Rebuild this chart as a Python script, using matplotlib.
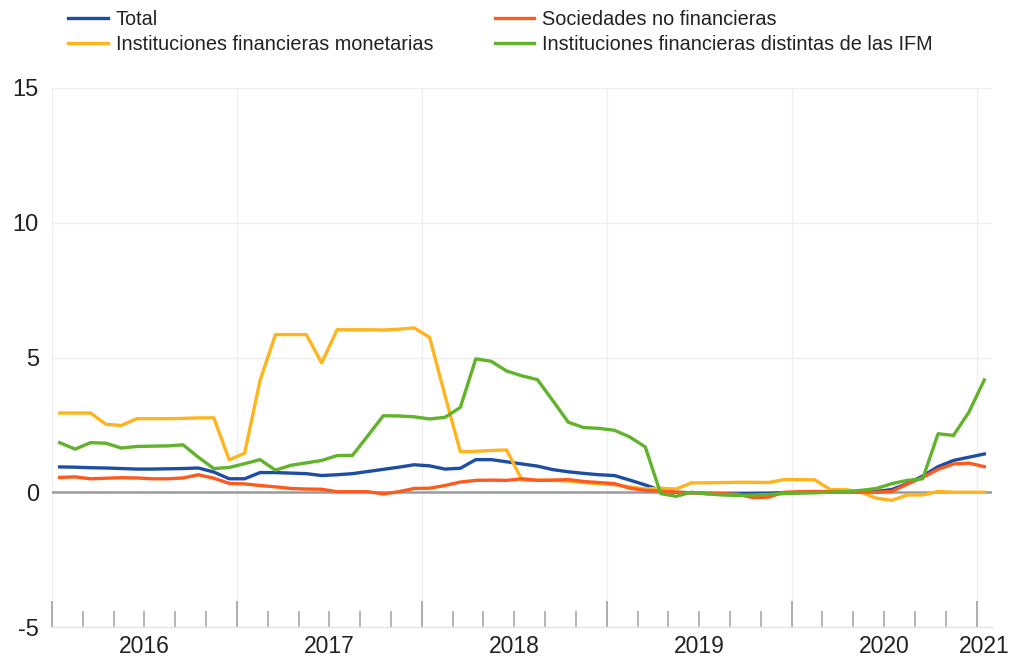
import matplotlib
matplotlib.use("Agg")
import matplotlib.pyplot as plt
import numpy as np

plt.rcParams['font.family'] = ['Liberation Sans', 'DejaVu Sans']
plt.rcParams['axes.unicode_minus'] = False

# Monthly data, Jan 2016 - Jan 2021
total = [0.94, 0.93, 0.91, 0.90, 0.88, 0.86, 0.86, 0.87, 0.88, 0.90, 0.75, 0.50,
         0.50, 0.73, 0.73, 0.71, 0.69, 0.62, 0.65, 0.69, 0.77, 0.85, 0.93, 1.02,
         0.98, 0.86, 0.89, 1.21, 1.21, 1.13, 1.05, 0.97, 0.84, 0.76, 0.70, 0.65,
         0.62, 0.45, 0.27, 0.07, 0.00, -0.02, -0.05, -0.06, -0.06, -0.05, -0.04, -0.02,
         -0.01, 0.00, 0.01, 0.02, 0.02, 0.03, 0.10, 0.32, 0.60, 0.95, 1.18, 1.30,
         1.42]
sociedades = [0.55, 0.57, 0.50, 0.52, 0.54, 0.53, 0.50, 0.50, 0.53, 0.65, 0.52, 0.33,
              0.31, 0.25, 0.20, 0.14, 0.12, 0.11, 0.02, 0.02, 0.02, -0.06, 0.02, 0.14,
              0.15, 0.25, 0.38, 0.44, 0.45, 0.44, 0.50, 0.44, 0.45, 0.47, 0.40, 0.36,
              0.32, 0.15, 0.07, 0.04, 0.00, -0.02, -0.04, -0.05, -0.08, -0.20, -0.18, 0.00,
              0.02, 0.03, 0.02, 0.02, 0.00, 0.00, 0.03, 0.30, 0.55, 0.85, 1.05, 1.08,
              0.95]
ifm = [2.94, 2.94, 2.94, 2.52, 2.48, 2.73, 2.73, 2.73, 2.74, 2.76, 2.76, 1.20,
       1.45, 4.15, 5.85, 5.85, 5.85, 4.80, 6.03, 6.03, 6.03, 6.02, 6.05, 6.10,
       5.75, 3.60, 1.50, 1.52, 1.55, 1.57, 0.45, 0.45, 0.44, 0.42, 0.36, 0.32,
       0.28, 0.20, 0.12, 0.15, 0.12, 0.35, 0.35, 0.36, 0.37, 0.37, 0.36, 0.47,
       0.47, 0.46, 0.10, 0.10, 0.00, -0.22, -0.30, -0.10, -0.10, 0.03, 0.00, 0.00,
       0.00]
distintas = [1.84, 1.60, 1.84, 1.82, 1.64, 1.70, 1.71, 1.72, 1.76, 1.30, 0.88, 0.92,
             1.06, 1.21, 0.82, 1.00, 1.09, 1.18, 1.36, 1.37, 2.10, 2.84, 2.83, 2.80,
             2.72, 2.78, 3.15, 4.95, 4.86, 4.50, 4.32, 4.18, 3.40, 2.60, 2.40, 2.37,
             2.30, 2.05, 1.68, -0.05, -0.15, 0.00, -0.06, -0.10, -0.12, -0.10, -0.08, -0.05,
             -0.03, -0.02, 0.00, 0.02, 0.07, 0.14, 0.32, 0.44, 0.50, 2.17, 2.11, 2.97,
             4.17]

labels = ["Total", "Instituciones financieras monetarias",
          "Sociedades no financieras", "Instituciones financieras distintas de las IFM"]
colors = ["#1d4ea3", "#ffb41e", "#ff5a1e", "#62b32c"]
years = ["2016", "2017", "2018", "2019", "2020", "2021"]
yticks = [-5, 0, 5, 10, 15]

W, H = 1011, 658
fig = plt.figure(figsize=(W / 100, H / 100), dpi=100)
ax = fig.add_axes([52 / W, 1 - 627 / H, (992 - 52) / W, (627 - 88) / H])

n = len(total)
x = np.arange(n) + 0.5
series = [total, ifm, sociedades, distintas]
lines = [None] * 4
for k in [1, 0, 2, 3]:
    ln, = ax.plot(x, series[k], color=colors[k], lw=2.4, label=labels[k],
                  solid_joinstyle='round', zorder=3 + k)
    lines[k] = ln

ax.set_xlim(0, 61)
ax.set_ylim(-5, 15)

# grid
ax.axhline(0, color="#9a9a9a", lw=1.8, zorder=2)
for yv in [5, 10, 15]:
    ax.axhline(yv, color="#efefef", lw=1.0, zorder=1)
for xv in range(0, 61, 12):
    ax.axvline(xv, color="#efefef", lw=1.0, zorder=1)

for s in ["top", "right", "left"]:
    ax.spines[s].set_visible(False)
ax.spines["bottom"].set_color("#e3e3e3")
ax.spines["bottom"].set_linewidth(1.0)

ax.set_yticks(yticks)
ax.set_yticklabels([str(v) for v in yticks])
ax.tick_params(axis='y', length=0, pad=9.5, labelsize=17, labelcolor="#222222")

ax.set_xticks(np.arange(0, 61, 12))
ax.set_xticks(np.arange(0, 61, 2), minor=True)
ax.set_xticklabels([])
ax.tick_params(axis='x', which='major', direction='in', length=18.5, width=1.3,
               color="#a8a8a8")
ax.tick_params(axis='x', which='minor', direction='in', length=11.5, width=1.3,
               color="#b0b0b0")

sec = ax.secondary_xaxis('bottom')
sec.set_xticks([6, 18, 30, 42, 54, 60.5])
sec.set_xticklabels(years)
sec.tick_params(length=0, pad=5.5, labelsize=16.5, labelcolor="#222222")
sec.spines["bottom"].set_visible(False)

handles = [lines[0], lines[1], lines[2], lines[3]]
fig.legend(handles, [labels[0], labels[1], labels[2], labels[3]], ncol=2,
           loc='upper left', bbox_to_anchor=(68 / W, 1 - 10 / H),
           frameon=False, fontsize=14.3, handlelength=2.0, handletextpad=0.4,
           columnspacing=3.1, labelspacing=0.32, borderpad=0, borderaxespad=0,
           labelcolor="#222222")

fig.savefig("out.png", dpi=100)
